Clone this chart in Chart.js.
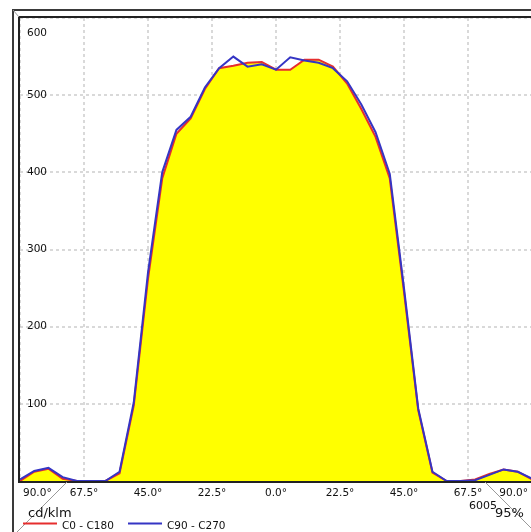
<!DOCTYPE html>
<html>
<head>
<meta charset="utf-8">
<script src="https://cdn.jsdelivr.net/npm/chart.js@4.4.0/dist/chart.umd.min.js"></script>
<style>
  html, body { margin: 0; padding: 0; overflow: hidden; background: #fff; }
  #wrap { width: 536px; height: 532px; }
</style>
</head>
<body>
<div id="wrap"><canvas id="chart" width="536" height="532"></canvas></div>
<script>
// angles (5 deg steps) and intensities in cd/klm
const angles = [-90, -85, -80, -75, -70, -65, -60, -55, -50, -45, -40, -35, -30, -25, -20, -15, -10, -5,
  0, 5, 10, 15, 20, 25, 30, 35, 40, 45, 50, 55, 60, 65, 70, 75, 80, 85, 90];
const c0c180 = [0, 12, 16, 3, 0, 0, 0, 10, 98, 262, 392, 450, 470, 508, 535, 538, 542, 543,
  533, 533, 546, 546, 537, 515, 482, 446, 392, 245, 92, 11, 0, 0, 2, 9, 15, 12, 2];
const c90c270 = [2, 13, 17, 5, 0, 0, 0, 12, 102, 270, 400, 455, 472, 510, 535, 550, 537, 540,
  533, 549, 545, 542, 535, 518, 488, 452, 398, 250, 94, 12, 0, 0, 1, 8, 15, 12, 3];

const xTicks = [-90, -67.5, -45, -22.5, 0, 22.5, 45, 67.5, 90];
const yTicks = [100, 200, 300, 400, 500, 600];
const seriesNames = ['C0 - C180', 'C90 - C270'];
const seriesColors = ['#e62e2e', '#3535c4'];
const unitLabel = 'cd/klm';
const codeLabel = '6005';
const pctLabel = '95%';

const FONT = '"DejaVu Sans", sans-serif';

// frame, tick labels and legend
const framePlugin = {
  id: 'frame',
  afterDraw(chart) {
    const ctx = chart.ctx;
    const xs = chart.scales.x;
    const ys = chart.scales.y;
    const area = chart.chartArea;
    ctx.save();
    ctx.setLineDash([]);

    // axis lines (solid)
    ctx.strokeStyle = '#222';
    ctx.lineWidth = 2;
    ctx.beginPath();
    ctx.moveTo(area.left - 1, area.top - 1);
    ctx.lineTo(area.left - 1, area.bottom + 1);
    ctx.lineTo(536, area.bottom + 1);
    ctx.moveTo(area.left - 1, area.top - 1);
    ctx.lineTo(536, area.top - 1);
    ctx.stroke();

    // outer frame
    ctx.strokeStyle = '#3a3a3a';
    ctx.beginPath();
    ctx.moveTo(13, 532);
    ctx.lineTo(13, 10);
    ctx.lineTo(536, 10);
    ctx.stroke();

    // bevel diagonals
    ctx.strokeStyle = '#999';
    ctx.lineWidth = 1;
    ctx.beginPath();
    ctx.moveTo(13, 10); ctx.lineTo(19, 17);
    ctx.moveTo(67, 482); ctx.lineTo(17, 532);
    ctx.moveTo(485, 482); ctx.lineTo(531, 528);
    ctx.stroke();

    ctx.fillStyle = '#111';
    // x tick labels
    ctx.font = '10.5px ' + FONT;
    ctx.textBaseline = 'alphabetic';
    ctx.textAlign = 'left';
    xTicks.forEach(v => {
      const txt = Math.abs(v).toFixed(1) + '°';
      const w = ctx.measureText(txt).width;
      let x = xs.getPixelForValue(v) - w / 2;
      x = Math.max(x, 23);
      x = Math.min(x, 528 - w);
      ctx.fillText(txt, x, area.bottom + 15);
    });

    // y tick labels, inside the plot
    ctx.textBaseline = 'middle';
    yTicks.forEach(v => {
      const y = Math.max(ys.getPixelForValue(v), area.top + 15);
      ctx.fillText(String(v), area.left + 7, y);
    });

    // unit
    ctx.textBaseline = 'alphabetic';
    ctx.font = '13px ' + FONT;
    ctx.fillText(unitLabel, 28, 517);

    // legend
    ctx.font = '10.5px ' + FONT;
    const starts = [23, 128];
    seriesNames.forEach((name, i) => {
      const x0 = starts[i];
      ctx.strokeStyle = seriesColors[i];
      ctx.lineWidth = 2;
      ctx.beginPath();
      ctx.moveTo(x0, 523.5);
      ctx.lineTo(x0 + 34, 523.5);
      ctx.stroke();
      ctx.fillStyle = '#111';
      ctx.fillText(name, x0 + 39, 529);
    });

    ctx.font = '11px ' + FONT;
    ctx.fillText(codeLabel, 469, 509);
    ctx.font = '13px ' + FONT;
    ctx.fillText(pctLabel, 495, 517);

    ctx.restore();
  }
};

const gridStyle = { color: 'rgba(170,170,170,0.45)', lineWidth: 2, drawTicks: false };
const borderStyle = { display: false, dash: [3, 3] };

new Chart(document.getElementById('chart'), {
  type: 'line',
  data: {
    datasets: [
      {
        label: seriesNames[0],
        data: angles.map((a, i) => ({ x: a, y: c0c180[i] })),
        borderColor: seriesColors[0],
        backgroundColor: '#ffff00',
        borderWidth: 2,
        pointRadius: 0,
        tension: 0,
        fill: 'origin',
        order: 2
      },
      {
        label: seriesNames[1],
        data: angles.map((a, i) => ({ x: a, y: c90c270[i] })),
        borderColor: seriesColors[1],
        borderWidth: 2,
        pointRadius: 0,
        tension: 0,
        fill: false,
        order: 1
      }
    ]
  },
  options: {
    responsive: false,
    animation: false,
    events: [],
    layout: { padding: { left: 20, top: 18, right: 4, bottom: 51 } },
    plugins: {
      legend: { display: false },
      tooltip: { enabled: false }
    },
    scales: {
      x: {
        type: 'linear',
        min: -90,
        max: 90,
        z: 1,
        afterBuildTicks: s => { s.ticks = xTicks.map(v => ({ value: v })); },
        ticks: { display: false },
        grid: gridStyle,
        border: borderStyle
      },
      y: {
        min: 0,
        max: 600,
        z: 1,
        afterBuildTicks: s => { s.ticks = [0].concat(yTicks).map(v => ({ value: v })); },
        ticks: { display: false },
        grid: gridStyle,
        border: borderStyle
      }
    }
  },
  plugins: [framePlugin]
});
</script>
</body>
</html>
